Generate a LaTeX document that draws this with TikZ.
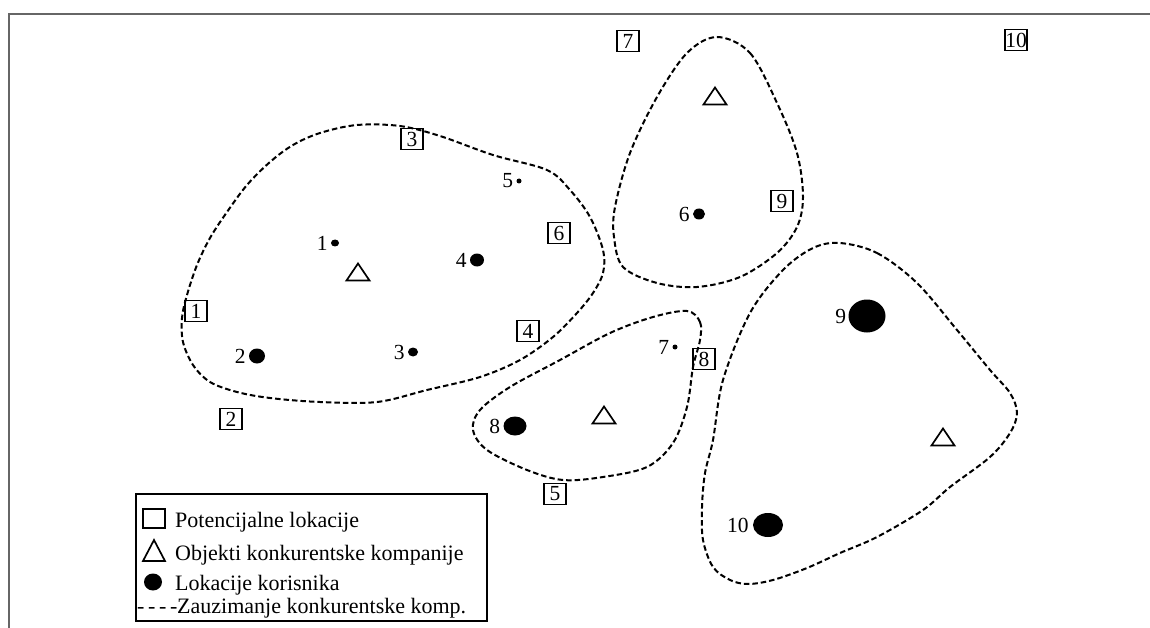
\documentclass[tikz,border=0pt]{standalone}
\usepackage{fontspec}
\setmainfont{Liberation Serif}
\usetikzlibrary{shapes.geometric,calc}
\newcommand\numfont{\fontsize{21.5}{24}\selectfont}
\newcommand\legfont{\fontsize{22}{26}\selectfont}
\tikzset{
  loc/.style={draw, line width=1.7, minimum width=22, minimum height=21, inner sep=0.5, font=\numfont},
  cust/.style={ellipse, fill=black, inner sep=0, draw=none},
  num/.style={inner sep=0, font=\numfont, anchor=east},
  region/.style={draw, line width=2, dash pattern=on 5.5pt off 3pt},
  legtext/.style={inner sep=0, anchor=base west, font=\legfont},
  tri/.pic={\draw[line width=1.7] (-11.5,8.5) -- (11.5,8.5) -- (0,-8.5) -- cycle;},
  legtri/.pic={\draw[line width=1.7] (-11,10.5) -- (11,10.5) -- (0,-10.5) -- cycle;}
}
\begin{document}
\begin{tikzpicture}[x=1pt,y=-1pt]
\useasboundingbox (0,0) rectangle (1150,628);
% frame
\draw[line width=1.8, draw=black!60] (9,628) -- (9,14) -- (1150,14);

% regions
\draw[region] plot[smooth cycle, tension=0.55] coordinates {
 (182,318) (187,295) (197,265) (210,238) (227,212) (247,185) (270,162) (293,145)
 (320,133) (357,125) (400,126) (440,136)
 (493,155) (547,170) (570,190) (590,217) (603,250) (603,273) (593,293) (577,313)
 (553,337) (520,360) (480,377) (427,390) (377,402) (320,402) (270,398) (237,392)
 (210,382) (193,365) (183,342)};
\draw[region] plot[smooth cycle, tension=0.55] coordinates {
 (717,37) (750,53) (777,103) (797,153) (803,197) (797,227) (777,253) (740,277)
 (697,287) (657,283) (623,267) (614,237) (615,207) (630,153) (657,97) (687,53)};
\draw[region] plot[smooth cycle, tension=0.55] coordinates {
 (687,311) (700,322) (700,340) (693,367) (687,407) (673,443) (647,467) (603,477)
 (563,480) (527,470) (487,450) (473,430) (480,410) (510,387) (560,360) (610,333) (653,317)};
\draw[region] plot[smooth cycle, tension=0.55] coordinates {
 (840,243) (877,253) (917,283) (957,330) (990,370) (1010,393) (1017,413) (1010,433)
 (990,457) (950,487) (923,510) (877,537) (840,553) (807,568) (773,580) (748,584)
 (730,580) (713,567) (703,540) (702,507) (705,473) (713,440)
 (723,380) (750,313) (783,270) (813,248)};

% potential locations
\node[loc] (p1) at (196,311) {1};
\node[loc] (p2) at (231,419) {2};
\node[loc] (p3) at (412,139) {3};
\node[loc] (p4) at (528,331) {4};
\node[loc] (p5) at (555,494) {5};
\node[loc] (p6) at (559,233) {6};
\node[loc] (p7) at (628,41) {7};
\node[loc] (p8) at (704,359) {8};
\node[loc] (p9) at (782,201) {9};
\node[loc] (p10) at (1016,40) {10};

% competitor objects
\pic at (358,272) {tri};
\pic at (715,96) {tri};
\pic at (604,415) {tri};
\pic at (943,437) {tri};

% customers
\node[cust, minimum width=8, minimum height=7] (c1) at (335,243) {};
\node[cust, minimum width=16, minimum height=15] (c2) at (257,356) {};
\node[cust, minimum width=10, minimum height=9] (c3) at (413,352) {};
\node[cust, minimum width=14, minimum height=13] (c4) at (477,260) {};
\node[cust, minimum width=5, minimum height=5] (c5) at (519,181) {};
\node[cust, minimum width=12, minimum height=11] (c6) at (699,214) {};
\node[cust, minimum width=5, minimum height=5] (c7) at (675,347) {};
\node[cust, minimum width=23, minimum height=19] (c8) at (515,426) {};
\node[cust, minimum width=37, minimum height=33] (c9) at (867,316) {};
\node[cust, minimum width=30, minimum height=24] (c10) at (768,525) {};
\node[num] (l1) at ([xshift=-3]c1.west) {1};
\node[num] (l2) at ([xshift=-3]c2.west) {2};
\node[num] (l3) at ([xshift=-3]c3.west) {3};
\node[num] (l4) at ([xshift=-3]c4.west) {4};
\node[num] (l5) at ([xshift=-3]c5.west) {5};
\node[num] (l6) at ([xshift=-3]c6.west) {6};
\node[num] (l7) at ([xshift=-3]c7.west) {7};
\node[num] (l8) at ([xshift=-3]c8.west) {8};
\node[num] (l9) at ([xshift=-2]c9.west) {9};
\node[num] (l10) at ([xshift=-4]c10.west) {10};

% legend
\node[draw, line width=1.8, minimum width=351, minimum height=127, anchor=north west, inner sep=0] (legend) at (135,493) {};
\node[draw, line width=1.7, minimum width=22, minimum height=19, inner sep=0] (lsq) at (154,518.5) {};
\pic at (154,550.5) {legtri};
\node[cust, minimum width=18, minimum height=17] (lci) at (153,582) {};
\node[legtext] (lt1) at (175,527) {Potencijalne lokacije};
\node[legtext] (lt2) at (175,560) {Objekti konkurentske kompanije};
\node[legtext] (lt3) at (175,590) {Lokacije korisnika};
\node[legtext] (lt4) at (137,613) {\makebox[40pt][s]{- - - -}Zauzimanje konkurentske komp.};
\end{tikzpicture}
\end{document}
